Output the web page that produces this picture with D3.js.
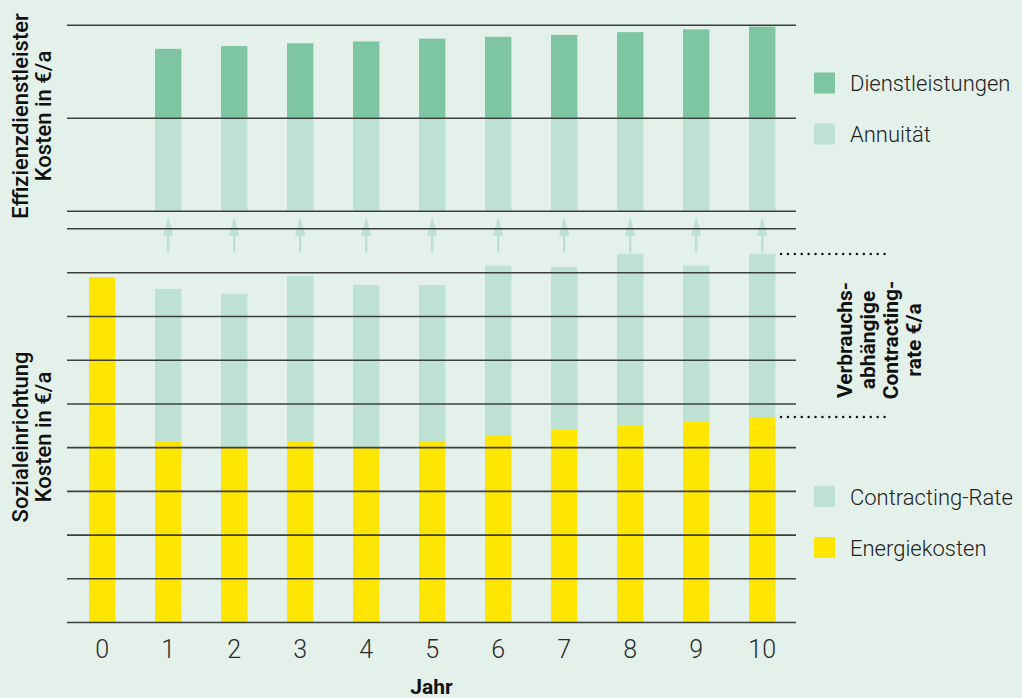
<!DOCTYPE html>
<html>
<head>
<meta charset="utf-8">
<script src="https://cdn.jsdelivr.net/npm/d3@7"></script>
<style>
  body { margin: 0; background: #e4f1ea; }
  svg { display: block; font-family: Roboto, "Noto Sans", sans-serif; }
</style>
</head>
<body>
<div id="chart"></div>
<script>
const years = [0, 1, 2, 3, 4, 5, 6, 7, 8, 9, 10];
// Effizienzdienstleister (upper panel), year 0 has none
const annuitaet = [0, 100, 100, 100, 100, 100, 100, 100, 100, 100, 100];
const dienstleistungen = [0, 74, 77, 80, 82, 85, 87, 89, 92, 95, 98];
// Sozialeinrichtung (lower panel)
const energiekosten = [789, 414, 400, 414, 400, 414, 428, 440, 449, 458, 469];
const contractingRate = [0, 348, 351, 378, 371, 357, 387, 372, 393, 357, 373];
const upperTicks = [0, 100, 200];
const lowerTicks = [0, 100, 200, 300, 400, 500, 600, 700, 800];

const W = 1022, H = 698;
const left = 67, right = 796;
const colDark = "#7dc5a3", colLight = "#bde1d2", colYellow = "#ffe600";
const lineCol = "#3b403d";

const svg = d3.select("#chart").append("svg")
    .attr("width", W)
    .attr("height", H);

svg.append("rect").attr("width", W).attr("height", H).attr("fill", "#e4f1ea");

const x = d3.scaleBand()
    .domain(years)
    .range([69.2, 795.2])
    .paddingInner(0.6)
    .paddingOuter(0.3);

const yUp = d3.scaleLinear().domain([0, 200]).range([210.7, 24.7]);
const yLo = d3.scaleLinear().domain([0, 800]).range([622, 272.3]);
const breakY = 228.7;

// upper panel bars
const up = svg.append("g");
years.forEach((yr, i) => {
    if (annuitaet[i] > 0) {
        up.append("rect")
            .attr("x", x(yr)).attr("width", x.bandwidth())
            .attr("y", yUp(annuitaet[i]))
            .attr("height", yUp(0) - yUp(annuitaet[i]))
            .attr("fill", colLight);
        up.append("rect")
            .attr("x", x(yr)).attr("width", x.bandwidth())
            .attr("y", yUp(annuitaet[i] + dienstleistungen[i]))
            .attr("height", yUp(annuitaet[i]) - yUp(annuitaet[i] + dienstleistungen[i]))
            .attr("fill", colDark);
    }
});

// arrows between panels
const arrows = svg.append("g").attr("fill", colLight).attr("stroke", colLight);
years.filter((d, i) => contractingRate[i] > 0).forEach(yr => {
    const cx = x(yr) + x.bandwidth() / 2;
    arrows.append("line")
        .attr("x1", cx).attr("x2", cx)
        .attr("y1", 234).attr("y2", 252.7)
        .attr("stroke-width", 2.5);
    arrows.append("path")
        .attr("stroke", "none")
        .attr("d", `M${cx},216.7 L${cx + 5.2},235.7 L${cx - 5.2},235.7 Z`);
});

// lower panel bars
const lo = svg.append("g");
years.forEach((yr, i) => {
    lo.append("rect")
        .attr("x", x(yr)).attr("width", x.bandwidth())
        .attr("y", yLo(energiekosten[i]))
        .attr("height", yLo(0) - yLo(energiekosten[i]))
        .attr("fill", colYellow);
    if (contractingRate[i] > 0) {
        lo.append("rect")
            .attr("x", x(yr)).attr("width", x.bandwidth())
            .attr("y", yLo(energiekosten[i] + contractingRate[i]))
            .attr("height", yLo(energiekosten[i]) - yLo(energiekosten[i] + contractingRate[i]))
            .attr("fill", colLight);
    }
});

// gridlines on top of the bars
const gridUp = svg.append("g")
    .attr("transform", `translate(${left},0)`)
    .call(d3.axisLeft(yUp).tickValues(upperTicks).tickSize(-(right - left)).tickFormat(""));
const gridLo = svg.append("g")
    .attr("transform", `translate(${left},0)`)
    .call(d3.axisLeft(yLo).tickValues(lowerTicks).tickSize(-(right - left)).tickFormat(""));
[gridUp, gridLo].forEach(g => {
    g.select(".domain").remove();
    g.selectAll("line").attr("stroke", lineCol).attr("stroke-width", 1.6);
});
svg.append("line")
    .attr("x1", left).attr("x2", right)
    .attr("y1", breakY).attr("y2", breakY)
    .attr("stroke", lineCol).attr("stroke-width", 1.6);

// x axis
const xAxis = svg.append("g")
    .attr("transform", `translate(0,${yLo(0)})`)
    .call(d3.axisBottom(x).tickSize(0).tickPadding(18));
xAxis.select(".domain").remove();
xAxis.selectAll("text")
    .attr("font-size", 25)
    .attr("font-weight", 300)
    .attr("fill", "#2b2b2b")
    .attr("font-family", "Roboto");

svg.append("text")
    .attr("x", (left + right) / 2).attr("y", 694)
    .attr("text-anchor", "middle")
    .attr("font-size", 21).attr("font-weight", 700)
    .attr("fill", "#111")
    .text("Jahr");

// rotated axis titles
function rotLabel(lines, cx, cy, size, weight, lh) {
    const t = svg.append("text")
        .attr("transform", `translate(${cx},${cy}) rotate(-90)`)
        .attr("text-anchor", "middle")
        .attr("font-size", size)
        .attr("font-weight", weight)
        .attr("fill", "#111");
    const n = lines.length;
    lines.forEach((l, i) => {
        t.append("tspan")
            .attr("x", 0)
            .attr("y", (i - (n - 1) / 2) * lh + size * 0.36)
            .text(l);
    });
}
rotLabel(["Effizienzdienstleister", "Kosten in €/a"], 31.5, 116, 22, 500, 23);
rotLabel(["Sozialeinrichtung", "Kosten in €/a"], 31.5, 437, 22, 500, 23);

// dotted markers for the contracting rate
const last = years.length - 1;
[energiekosten[last] + contractingRate[last], energiekosten[last]].forEach(v => {
    svg.append("line")
        .attr("x1", 781).attr("x2", 890)
        .attr("y1", yLo(v)).attr("y2", yLo(v))
        .attr("stroke", "#111")
        .attr("stroke-width", 2.4)
        .attr("stroke-linecap", "round")
        .attr("stroke-dasharray", "0.1 6.8");
});
rotLabel(["Verbrauchs-", "abhängige", "Contracting-", "rate €/a"], 879, 340, 21, 700, 23);

// legends
const legUp = [["Dienstleistungen", colDark], ["Annuität", colLight]];
const legLo = [["Contracting-Rate", colLight], ["Energiekosten", colYellow]];
function legend(items, y0) {
    items.forEach(([label, c], i) => {
        const cy = y0 + i * 51;
        svg.append("rect")
            .attr("x", 814).attr("y", cy - 10.5)
            .attr("width", 21).attr("height", 21)
            .attr("fill", c);
        svg.append("text")
            .attr("x", 850).attr("y", cy + 8)
            .attr("font-size", 22).attr("font-weight", 300)
            .attr("fill", "#222")
            .text(label);
    });
}
legend(legUp, 83);
legend(legLo, 496.5);
</script>
</body>
</html>
